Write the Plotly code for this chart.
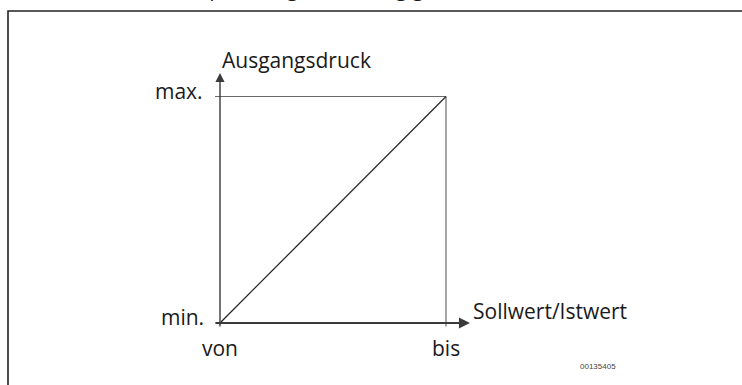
import plotly.graph_objects as go

# Kennlinie: Ausgangsdruck über Sollwert/Istwert (normiert 0..1)
x_vals = [0, 1]          # von .. bis
y_vals = [0, 1]          # min. .. max.
x_ticks = ["von", "bis"]
y_ticks = ["min.", "max."]
x_title = "Sollwert/Istwert"
y_title = "Ausgangsdruck"
fig_id = "00135405"
caption = "Kennlinie: Druck p ansteigen, abhängig vom Sollwert"

FONT = "Open Sans"
AX = "#3a3a3a"
GUIDE = "#6a6a6a"

fig = go.Figure()

# Hilfslinien bis max. / bis
fig.add_trace(go.Scatter(x=[-0.022, x_vals[1]], y=[y_vals[1], y_vals[1]], mode="lines",
                         line=dict(color=GUIDE, width=1.2), hoverinfo="skip"))
fig.add_trace(go.Scatter(x=[x_vals[1], x_vals[1]], y=[-0.015, y_vals[1]], mode="lines",
                         line=dict(color=GUIDE, width=1.2), hoverinfo="skip"))
# Kennlinie
fig.add_trace(go.Scatter(x=x_vals, y=y_vals, mode="lines",
                         line=dict(color="#2a2a2a", width=1.3), hoverinfo="skip"))

# Achsen mit Pfeil
fig.add_annotation(x=0, y=1.104, ax=0, ay=-0.022, xref="x", yref="y", axref="x", ayref="y",
                   showarrow=True, arrowhead=2, arrowsize=1.3, arrowwidth=1.4,
                   arrowcolor=AX, text="", standoff=0, startstandoff=0)
fig.add_annotation(x=1.106, y=0, ax=-0.027, ay=0, xref="x", yref="y", axref="x", ayref="y",
                   showarrow=True, arrowhead=2, arrowsize=1.1, arrowwidth=2,
                   arrowcolor=AX, text="", standoff=0, startstandoff=0)

txt = dict(family=FONT, size=21, color="#1a1a1a")
fig.add_annotation(x=0, y=1.16, text=y_title, showarrow=False, xanchor="left",
                   yanchor="middle", font=txt)
fig.add_annotation(x=-0.066, y=y_vals[1] + 0.025, text=y_ticks[1], showarrow=False,
                   xanchor="right", yanchor="middle", font=txt)
fig.add_annotation(x=-0.062, y=y_vals[0] + 0.025, text=y_ticks[0], showarrow=False,
                   xanchor="right", yanchor="middle", font=txt)
fig.add_annotation(x=x_vals[0], y=-0.11, text=x_ticks[0], showarrow=False,
                   xanchor="center", yanchor="middle", font=txt)
fig.add_annotation(x=x_vals[1], y=-0.11, text=x_ticks[1], showarrow=False,
                   xanchor="center", yanchor="middle", font=txt)
fig.add_annotation(x=1.111, y=0.055, text=x_title, showarrow=False,
                   xanchor="left", yanchor="middle", font=txt)
fig.add_annotation(x=1.673, y=-0.19, text=fig_id, showarrow=False,
                   xanchor="center", yanchor="middle",
                   font=dict(family="Liberation Sans Narrow, Arial", size=8, color="#444"))
# abgeschnittene Überschrift oben (nur Unterlängen sichtbar)
fig.add_annotation(x=42 / 742, y=1 + 12 / 385, xref="paper", yref="paper",
                   text=caption, showarrow=False,
                   xanchor="left", yanchor="middle", font=txt)

# Rahmen
fig.add_shape(type="rect", xref="paper", yref="paper", x0=8 / 742, x1=1.05,
              y0=-0.05, y1=1 - 11 / 385, line=dict(color="#222", width=1.6))

fig.update_layout(
    width=742, height=385,
    margin=dict(l=0, r=0, t=0, b=0),
    paper_bgcolor="white", plot_bgcolor="white",
    showlegend=False,
    xaxis=dict(range=[-220 / 226, 522 / 226], visible=False, fixedrange=True),
    yaxis=dict(range=[-62 / 226.5, 323 / 226.5], visible=False, fixedrange=True),
)

fig.write_html("out.html", config={"displayModeBar": False},
               post_script="document.body.style.margin='0';")
